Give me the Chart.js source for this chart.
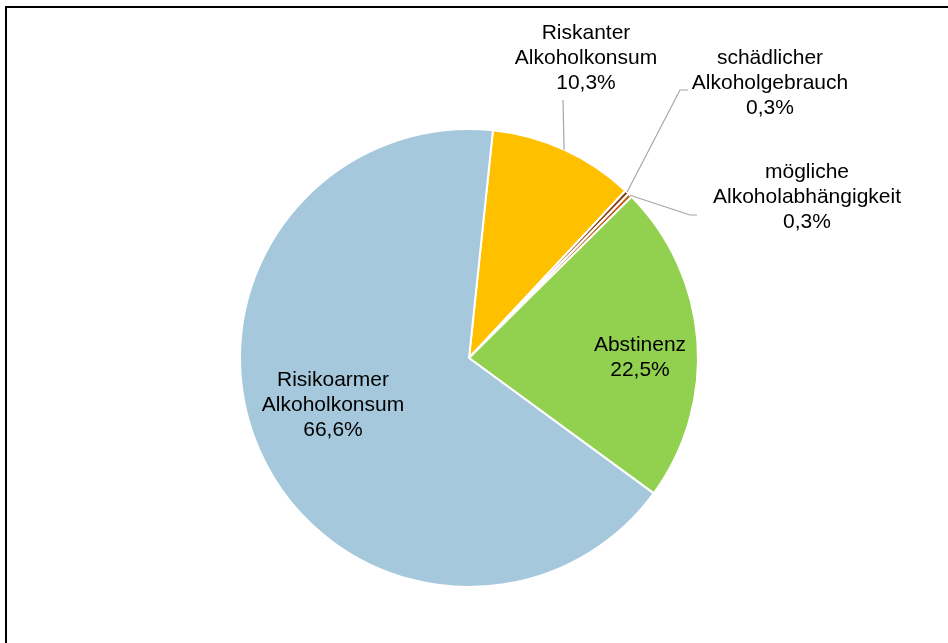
<!DOCTYPE html>
<html>
<head>
<meta charset="utf-8">
<script src="https://cdn.jsdelivr.net/npm/chart.js@4.4.0/dist/chart.umd.min.js"></script>
<style>
  html, body { margin: 0; padding: 0; background: #fff; }
  #wrap { position: relative; width: 948px; height: 643px; }
  #frame { position: absolute; left: 5px; top: 6px; width: 960px; height: 660px; border: 2px solid #000; box-sizing: border-box; pointer-events: none; }
</style>
</head>
<body>
<div id="wrap">
  <canvas id="pieChart" width="948" height="643"></canvas>
  <div id="frame"></div>
</div>
<script>
// categories and values (percent)
const categories = [
    ['Riskanter', 'Alkoholkonsum'],
    ['schädlicher', 'Alkoholgebrauch'],
    ['mögliche', 'Alkoholabhängigkeit'],
    ['Abstinenz'],
    ['Risikoarmer', 'Alkoholkonsum']
];
const shares = [10.3, 0.3, 0.3, 22.5, 66.6];
const sliceColors = ['#FFC000', '#843C0C', '#C55A11', '#92D050', '#A5C8DC'];

// where each label text sits, and how its leader line bends (null = no leader)
const labelSpots = [
    { x: 586, y: 33, leader: [[563, 100]] },
    { x: 770, y: 58, leader: [[680, 90], [688, 90]] },
    { x: 807, y: 172, leader: [[690, 215], [697, 215]] },
    { x: 640, y: 345, leader: null },
    { x: 333, y: 380, leader: null }
];

const fmt = v => v.toFixed(1).replace('.', ',') + '%';

const labelPlugin = {
    id: 'sliceLabels',
    afterDraw(chart) {
        const c = chart.ctx;
        const arcs = chart.getDatasetMeta(0).data;
        c.save();
        c.font = '21px "Liberation Sans", Arial, sans-serif';
        c.fillStyle = '#000';
        c.textAlign = 'center';
        c.textBaseline = 'middle';
        arcs.forEach((arc, i) => {
            const spot = labelSpots[i];
            if (spot.leader) {
                const p = arc.getProps(['x', 'y', 'startAngle', 'endAngle', 'outerRadius'], true);
                const mid = (p.startAngle + p.endAngle) / 2;
                c.beginPath();
                c.strokeStyle = '#A6A6A6';
                c.lineWidth = 1.2;
                c.moveTo(p.x + Math.cos(mid) * p.outerRadius, p.y + Math.sin(mid) * p.outerRadius);
                spot.leader.forEach(pt => c.lineTo(pt[0], pt[1]));
                c.stroke();
            }
            const lines = categories[i].concat([fmt(shares[i])]);
            lines.forEach((t, k) => c.fillText(t, spot.x, spot.y + k * 25));
        });
        c.restore();
    }
};

const ctx = document.getElementById('pieChart').getContext('2d');
const pieChart = new Chart(ctx, {
    type: 'pie',
    data: {
        labels: categories.map(l => l.join(' ')),
        datasets: [{
            data: shares,
            backgroundColor: sliceColors,
            borderColor: '#FFFFFF',
            borderWidth: 2
        }]
    },
    options: {
        responsive: false,
        animation: false,
        rotation: 6,
        layout: { padding: { top: 128, bottom: 55, left: 239, right: 249 } },
        plugins: {
            legend: { display: false },
            tooltip: { enabled: false }
        }
    },
    plugins: [labelPlugin]
});
</script>
</body>
</html>
